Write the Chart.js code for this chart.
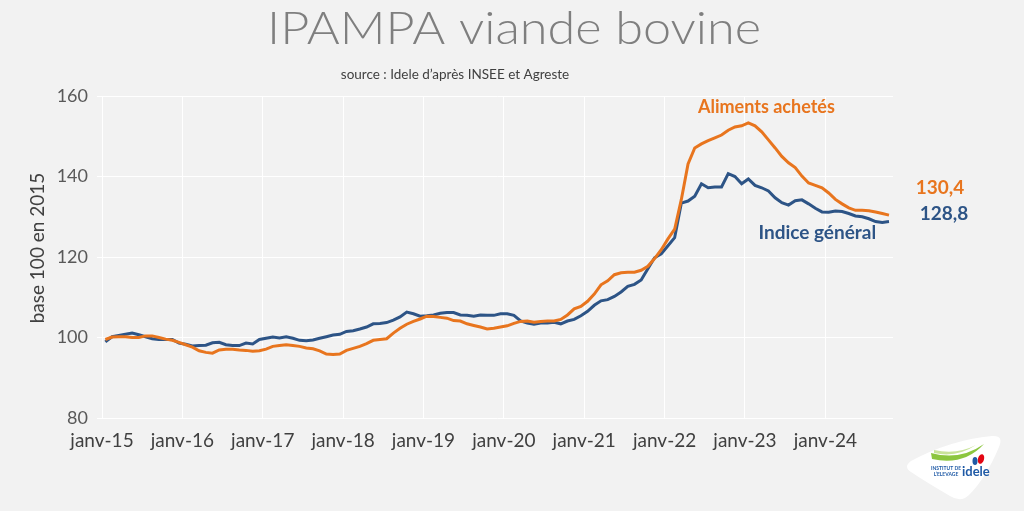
<!DOCTYPE html>
<html lang="fr">
<head>
<meta charset="utf-8">
<title>IPAMPA viande bovine</title>
<script src="https://cdn.jsdelivr.net/npm/chart.js@4.4.1/dist/chart.umd.min.js"></script>
<style>
  html, body { margin: 0; padding: 0; background: #f2f2f2; }
  #wrap { width: 1024px; height: 511px; position: relative; }
</style>
</head>
<body>
<div id="wrap"><canvas id="chart" width="1024" height="511"></canvas></div>
<script>
// tick labels on the x axis (one per January)
const yearLabels = ['janv-15', 'janv-16', 'janv-17', 'janv-18', 'janv-19', 'janv-20', 'janv-21', 'janv-22', 'janv-23', 'janv-24'];

// monthly values, janv-15 .. oct-24
const indiceGeneral = [
  98.9, 100.2, 100.5, 100.8, 101.1, 100.7, 100.2, 99.7, 99.5, 99.5, 99.5, 98.6,
  98.3, 97.9, 98.0, 98.1, 98.7, 98.8, 98.2, 98.0, 98.0, 98.6, 98.4, 99.5,
  99.8, 100.1, 99.9, 100.2, 99.8, 99.3, 99.2, 99.4, 99.8, 100.2, 100.6, 100.8,
  101.5, 101.7, 102.1, 102.6, 103.4, 103.5, 103.7, 104.3, 105.1, 106.3, 105.9, 105.3,
  105.4, 105.6, 106.0, 106.2, 106.2, 105.6, 105.5, 105.3, 105.6, 105.5, 105.5, 105.9,
  105.9, 105.5, 104.1, 103.6, 103.3, 103.6, 103.6, 103.8, 103.4, 104.1, 104.5, 105.4,
  106.5, 108.0, 109.1, 109.4, 110.2, 111.3, 112.7, 113.2, 114.3, 117.1, 119.8, 120.8,
  122.8, 124.8, 133.4, 133.9, 135.1, 138.2, 137.2, 137.4, 137.4, 140.7, 140.0, 138.2,
  139.4, 137.8, 137.2, 136.4, 134.7, 133.5, 132.9, 134.0, 134.2, 133.2, 132.1, 131.2,
  131.1, 131.4, 131.3, 130.8, 130.2, 130.0, 129.5, 128.8, 128.6, 128.8
];

const alimentsAchetes = [
  99.5, 100.1, 100.2, 100.2, 100.0, 100.0, 100.4, 100.4, 100.0, 99.6, 99.3, 98.8,
  98.2, 97.6, 96.7, 96.3, 96.1, 96.9, 97.1, 97.1, 96.9, 96.8, 96.6, 96.7,
  97.1, 97.8, 98.0, 98.2, 98.0, 97.8, 97.4, 97.2, 96.7, 95.9, 95.8, 95.9,
  96.8, 97.3, 97.8, 98.5, 99.3, 99.5, 99.7, 101.1, 102.3, 103.3, 104.0, 104.6,
  105.3, 105.2, 105.0, 104.8, 104.2, 104.1, 103.4, 103.0, 102.6, 102.1, 102.3, 102.6,
  102.9, 103.5, 104.0, 104.1, 103.8, 104.0, 104.1, 104.1, 104.5, 105.6, 107.1, 107.7,
  109.0, 110.8, 113.1, 114.1, 115.6, 116.1, 116.2, 116.2, 116.7, 117.7, 119.6, 121.8,
  124.5, 126.9, 134.3, 143.1, 147.1, 148.1, 148.9, 149.6, 150.3, 151.5, 152.3, 152.6,
  153.3, 152.6, 151.1, 149.1, 147.1, 145.0, 143.4, 142.2, 140.1, 138.4, 137.8, 137.2,
  135.9, 134.3, 133.2, 132.2, 131.6, 131.6, 131.5, 131.2, 130.8, 130.4
];

const yTicks = [80, 100, 120, 140, 160];

const orange = '#e8751e';
const blue = '#2d5486';
const textGray = '#404040';

const toPoints = (arr) => arr.map((v, i) => ({ x: i, y: v }));
const frNum = (v) => v.toFixed(1).replace('.', ',');

const textPlugin = {
    id: 'texts',
    afterDraw(chart) {
        const ctx = chart.ctx;
        const xs = chart.scales.x;
        const ys = chart.scales.y;
        const area = chart.chartArea;
        ctx.save();

        // title, stretched to the width of the original
        ctx.font = '300 46px Lato';
        ctx.fillStyle = '#7f7f7f';
        ctx.textAlign = 'center';
        ctx.textBaseline = 'alphabetic';
        const title = 'IPAMPA viande bovine';
        const tw = ctx.measureText(title).width;
        ctx.save();
        ctx.translate(514, 44);
        ctx.scale(494 / tw, 1);
        ctx.fillText(title, 0, 0);
        ctx.restore();

        // source line
        ctx.font = '13.5px Lato';
        ctx.fillStyle = textGray;
        ctx.textBaseline = 'middle';
        ctx.fillText('source : Idele d\u2019apr\u00e8s INSEE et Agreste', 455, 75);

        // y axis title
        ctx.save();
        ctx.translate(38, 248);
        ctx.rotate(-Math.PI / 2);
        ctx.font = '19px Lato';
        ctx.fillStyle = textGray;
        ctx.fillText('base 100 en 2015', 0, 0);
        ctx.restore();

        // series names
        ctx.font = 'bold 18px Lato';
        ctx.fillStyle = orange;
        ctx.fillText('Aliments achet\u00e9s', xs.getPixelForValue(98.7), ys.getPixelForValue(157.3));
        ctx.fillStyle = blue;
        ctx.font = 'bold 19px Lato';
        ctx.fillText('Indice g\u00e9n\u00e9ral', xs.getPixelForValue(106.3), ys.getPixelForValue(125.9));

        // last values
        const last = alimentsAchetes.length - 1;
        ctx.font = 'bold 19px Lato';
        ctx.fillStyle = orange;
        ctx.fillText(frNum(alimentsAchetes[last]), area.right + 47, ys.getPixelForValue(alimentsAchetes[last]) - 27);
        ctx.fillStyle = blue;
        ctx.fillText(frNum(indiceGeneral[last]), area.right + 51, ys.getPixelForValue(indiceGeneral[last]) - 8);

        // idele logo
        ctx.fillStyle = '#ffffff';
        ctx.beginPath();
        ctx.moveTo(911, 461);
        ctx.quadraticCurveTo(950, 440, 992, 436);
        ctx.quadraticCurveTo(1004, 435, 999, 447);
        ctx.quadraticCurveTo(986, 478, 969, 495);
        ctx.quadraticCurveTo(961, 503, 950, 496);
        ctx.quadraticCurveTo(926, 482, 911, 472);
        ctx.quadraticCurveTo(903, 467, 911, 461);
        ctx.closePath();
        ctx.fill();

        ctx.fillStyle = '#8cc63f';
        ctx.beginPath();
        ctx.moveTo(931, 453);
        ctx.quadraticCurveTo(960, 461, 984, 444);
        ctx.quadraticCurveTo(964, 466, 932, 459);
        ctx.closePath();
        ctx.fill();
        ctx.fillStyle = '#c9e39a';
        ctx.beginPath();
        ctx.moveTo(934, 450);
        ctx.quadraticCurveTo(957, 455, 976, 445);
        ctx.quadraticCurveTo(957, 458, 934, 453);
        ctx.closePath();
        ctx.fill();

        ctx.fillStyle = '#e30613';
        ctx.beginPath();
        ctx.ellipse(981, 459, 3, 5, 0.3, 0, Math.PI * 2);
        ctx.fill();
        ctx.fillStyle = '#1f5aa6';
        ctx.beginPath();
        ctx.ellipse(975, 461, 2.5, 4, 0, 0, Math.PI * 2);
        ctx.fill();

        ctx.font = 'bold 13px Lato';
        ctx.fillStyle = '#1f5aa6';
        ctx.textAlign = 'left';
        ctx.fillText('idele', 962, 472);
        ctx.font = 'bold 5px Lato';
        ctx.textAlign = 'center';
        ctx.fillText('INSTITUT DE', 946, 468);
        ctx.fillText('L\u2019ELEVAGE', 946, 474);

        ctx.restore();
    }
};

new Chart(document.getElementById('chart'), {
    type: 'line',
    data: {
        datasets: [
            {
                label: 'Aliments achet\u00e9s',
                data: toPoints(alimentsAchetes),
                borderColor: orange,
                borderWidth: 3,
                pointRadius: 0,
                tension: 0
            },
            {
                label: 'Indice g\u00e9n\u00e9ral',
                data: toPoints(indiceGeneral),
                borderColor: blue,
                borderWidth: 3,
                pointRadius: 0,
                tension: 0
            }
        ]
    },
    options: {
        responsive: false,
        animation: false,
        layout: {
            padding: { top: 96, right: 131, bottom: 53, left: 0 }
        },
        plugins: {
            legend: { display: false },
            tooltip: { enabled: false }
        },
        scales: {
            x: {
                type: 'linear',
                min: -0.5,
                max: 117.6,
                afterBuildTicks: (scale) => {
                    scale.ticks = yearLabels.map((_, k) => ({ value: -0.5 + 12 * k }));
                },
                afterFit: (scale) => { scale.height = 40; },
                ticks: {
                    color: textGray,
                    font: { family: 'Lato', size: 19 },
                    padding: 11,
                    maxRotation: 0,
                    autoSkip: false,
                    callback: (value, index) => yearLabels[index]
                },
                grid: { color: '#ffffff', lineWidth: 1, drawTicks: false },
                border: { display: false }
            },
            y: {
                min: yTicks[0],
                max: yTicks[yTicks.length - 1],
                afterBuildTicks: (scale) => {
                    scale.ticks = yTicks.map((v) => ({ value: v }));
                },
                afterFit: (scale) => { scale.width = 102; },
                ticks: {
                    color: '#595959',
                    font: { family: 'Lato', size: 18 },
                    padding: 9
                },
                grid: { color: '#ffffff', lineWidth: 1, tickLength: 5 },
                border: { display: false }
            }
        }
    },
    plugins: [textPlugin]
});
</script>
</body>
</html>
